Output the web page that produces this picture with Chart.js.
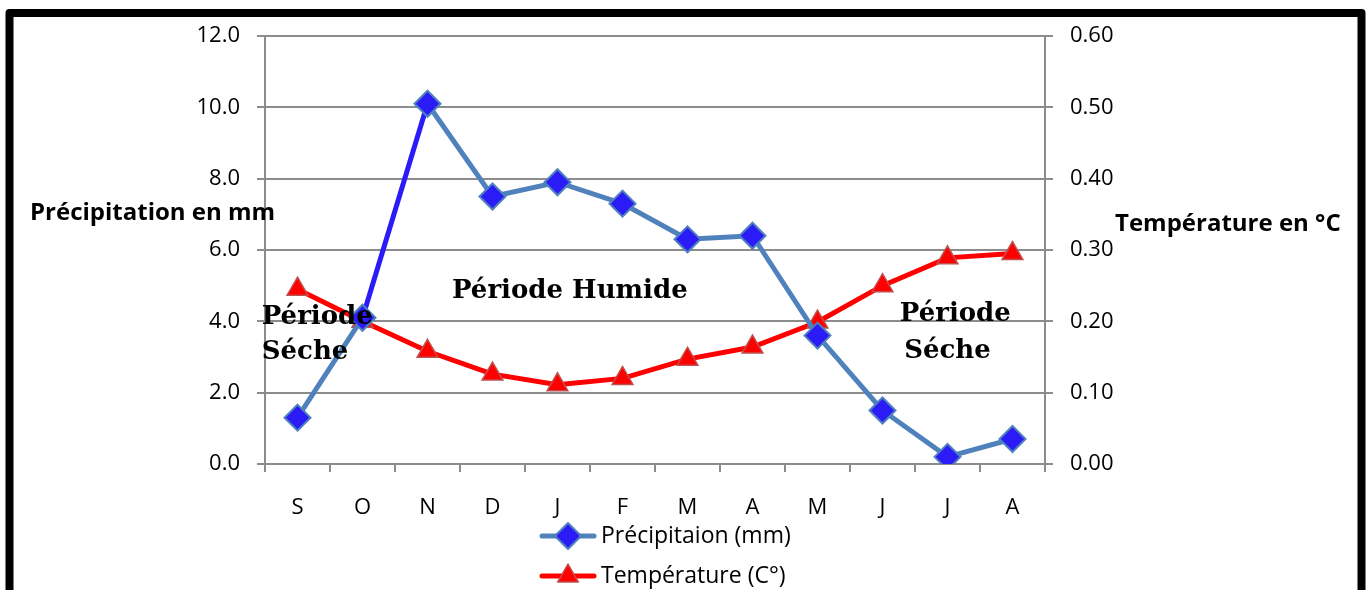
<!DOCTYPE html>
<html>
<head>
<meta charset="utf-8">
<script src="https://cdn.jsdelivr.net/npm/chart.js@4.4.0/dist/chart.umd.min.js"></script>
<style>
  html, body { margin: 0; padding: 0; background: #ffffff; }
  #wrap { width: 1370px; height: 590px; position: relative; }
</style>
</head>
<body>
<div id="wrap"><canvas id="c" width="1370" height="590"></canvas></div>
<script>
// ---- data ----
const months = ['S', 'O', 'N', 'D', 'J', 'F', 'M', 'A', 'M', 'J', 'J', 'A'];
const precipitation = [1.3, 4.1, 10.1, 7.5, 7.9, 7.3, 6.3, 6.4, 3.6, 1.5, 0.2, 0.7];
const temperature = [0.245, 0.200, 0.158, 0.126, 0.111, 0.120, 0.147, 0.164, 0.199, 0.250, 0.289, 0.295];
const precipLabel = 'Précipitaion (mm)';
const tempLabel = 'Température (C°)';
const leftTitle = 'Précipitation en mm';
const rightTitle = 'Température en °C';

const SANS = '"Open Sans", Lato, sans-serif';
const SERIF = '"DejaVu Serif", "Liberation Serif", serif';
const GRID = '#8c8c8c';

const extras = {
  id: 'extras',
  afterDatasetsDraw(chart) {
    const ctx = chart.ctx;
    const xs = chart.scales.x, ys = chart.scales.y;
    ctx.save();
    ctx.fillStyle = '#000';
    ctx.textBaseline = 'middle';
    ctx.font = 'bold 26px ' + SERIF;
    ctx.textAlign = 'center';
    ctx.fillText('Période Humide', xs.getPixelForValue(4.19), ys.getPixelForValue(4.85));
    ctx.textAlign = 'left';
    ctx.fillText('Période', xs.getPixelForValue(-0.55), ys.getPixelForValue(4.12));
    ctx.fillText('Séche', xs.getPixelForValue(-0.55), ys.getPixelForValue(3.14));
    ctx.textAlign = 'center';
    ctx.fillText('Période', xs.getPixelForValue(10.12), ys.getPixelForValue(4.21));
    ctx.fillText('Séche', xs.getPixelForValue(10.0), ys.getPixelForValue(3.17));
    ctx.restore();
  },
  afterDraw(chart) {
    const ctx = chart.ctx;
    ctx.save();
    // outer frame
    ctx.strokeStyle = '#000';
    ctx.lineWidth = 8;
    ctx.lineJoin = 'round';
    ctx.strokeRect(9.5, 13, 1352, 620);
    // axis titles (horizontal)
    ctx.fillStyle = '#000';
    ctx.textBaseline = 'middle';
    ctx.textAlign = 'left';
    ctx.font = 'bold 24px ' + SANS;
    ctx.fillText(leftTitle, 30, 213);
    ctx.fillText(rightTitle, 1115, 224);
    // legend
    const items = [
      { ds: chart.data.datasets[0], y: 536 },
      { ds: chart.data.datasets[1], y: 576 }
    ];
    items.forEach(it => {
      const ds = it.ds;
      ctx.strokeStyle = ds.borderColor;
      ctx.lineWidth = ds.borderWidth;
      ctx.lineCap = 'round';
      ctx.beginPath();
      ctx.moveTo(542, it.y);
      ctx.lineTo(594, it.y);
      ctx.stroke();
      ctx.fillStyle = ds.pointBackgroundColor;
      ctx.strokeStyle = ds.pointBorderColor;
      ctx.lineWidth = ds.pointBorderWidth;
      Chart.helpers.drawPoint(ctx, {
        pointStyle: ds.pointStyle,
        radius: ds.pointRadius,
        rotation: 0,
        borderWidth: ds.pointBorderWidth
      }, 568, it.y);
      ctx.fillStyle = '#000';
      ctx.font = '23px ' + SANS;
      ctx.textAlign = 'left';
      ctx.fillText(ds.label, 601, it.y);
    });
    ctx.restore();
  }
};

new Chart(document.getElementById('c'), {
  type: 'line',
  data: {
    labels: months,
    datasets: [
      {
        label: precipLabel,
        data: precipitation,
        yAxisID: 'y',
        borderColor: '#4f81bd',
        borderWidth: 5,
        pointStyle: 'rectRot',
        pointRadius: 13,
        pointHoverRadius: 13,
        pointBackgroundColor: '#2b1cf7',
        pointBorderColor: '#4f81bd',
        pointBorderWidth: 2,
        tension: 0,
        segment: {
          borderColor: c => (c.p0DataIndex === 1 ? '#2b1cf7' : '#4f81bd')
        },
        order: 1
      },
      {
        label: tempLabel,
        data: temperature,
        yAxisID: 'y1',
        borderColor: '#ff0000',
        borderWidth: 5,
        pointStyle: 'triangle',
        pointRadius: 12,
        pointHoverRadius: 12,
        pointBackgroundColor: '#ff0000',
        pointBorderColor: '#c0504d',
        pointBorderWidth: 1.5,
        tension: 0,
        order: 2
      }
    ]
  },
  options: {
    responsive: false,
    animation: false,
    devicePixelRatio: 1,
    layout: { padding: { top: 36, left: 0, right: 0, bottom: 0 } },
    plugins: {
      legend: { display: false },
      tooltip: { enabled: false },
      title: { display: false }
    },
    scales: {
      x: {
        type: 'category',
        offset: true,
        grid: { offset: true, drawOnChartArea: false, tickLength: 8, color: GRID, lineWidth: 2 },
        border: { display: true, color: GRID, width: 2 },
        ticks: { color: '#000', font: { family: SANS, size: 22 }, padding: 23, maxRotation: 0 },
        afterFit: s => { s.height = 126; }
      },
      y: {
        position: 'left',
        min: 0, max: 12,
        ticks: { stepSize: 2, color: '#000', font: { family: SANS, size: 22 }, padding: 17,
                 callback: v => Number(v).toFixed(1) },
        grid: { color: GRID, lineWidth: 2, tickLength: 8 },
        border: { display: true, color: GRID, width: 2 },
        afterFit: s => { s.width = 265; }
      },
      y1: {
        position: 'right',
        min: 0, max: 0.6,
        ticks: { stepSize: 0.1, color: '#000', font: { family: SANS, size: 22 }, padding: 17,
                 callback: v => Number(v).toFixed(2) },
        grid: { drawOnChartArea: false, color: GRID, lineWidth: 2, tickLength: 8 },
        border: { display: true, color: GRID, width: 2 },
        afterFit: s => { s.width = 325; }
      }
    }
  },
  plugins: [extras]
});
</script>
</body>
</html>
